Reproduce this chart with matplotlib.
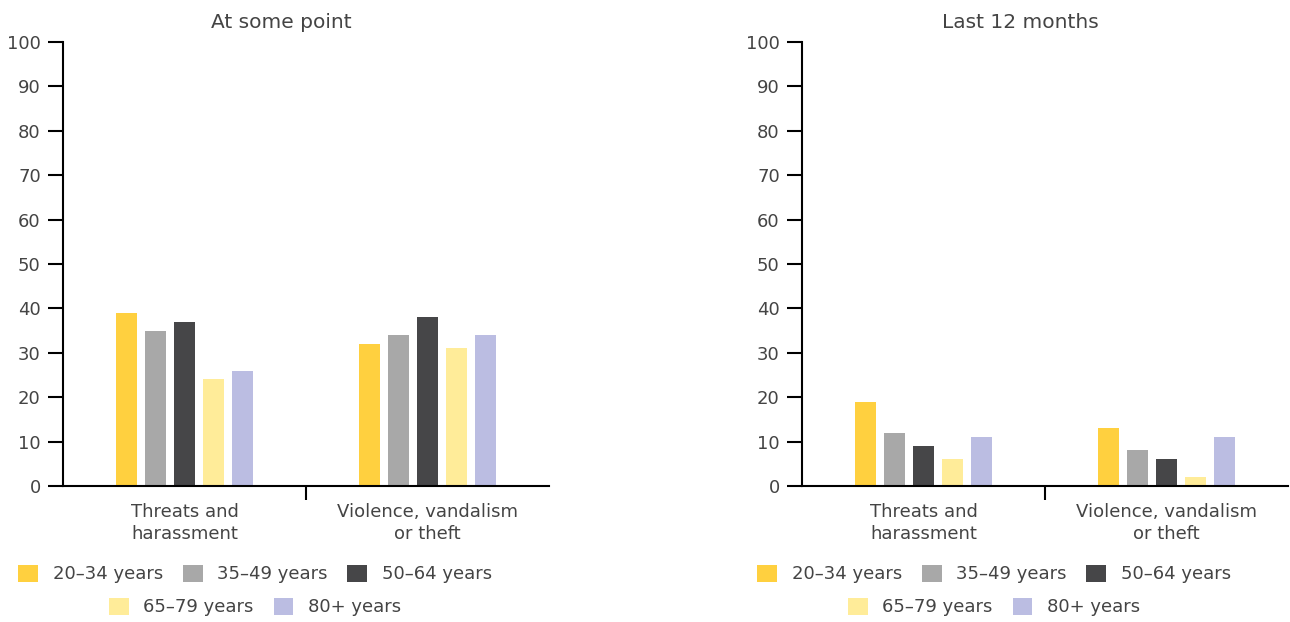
import matplotlib.pyplot as plt
import numpy as np
from matplotlib.patches import Patch

plt.rcParams['font.family'] = ['DejaVu Sans']

categories = ['Threats and\nharassment', 'Violence, vandalism\nor theft']
age_groups = ['20–34 years', '35–49 years', '50–64 years', '65–79 years', '80+ years']
colors = ['#FFD03F', '#A8A8A8', '#464648', '#FFEC99', '#BBBDE2']

# values per age group, [threats, violence]
at_some_point = [
    [39, 32],
    [35, 34],
    [37, 38],
    [24, 31],
    [26, 34],
]
last_12_months = [
    [19, 13],
    [12, 8],
    [9, 6],
    [6, 2],
    [11, 11],
]
titles = ['At some point', 'Last 12 months']

txt = '#444444'
fs = 13

fig = plt.figure(figsize=(12.9, 6.22), dpi=100)
ax_lefts = [63 / 1290, 802 / 1290]
panels = [at_some_point, last_12_months]

x = np.arange(len(categories))
step = 0.12
width = 0.087

for i, vals in enumerate(panels):
    ax = fig.add_axes([ax_lefts[i], 136 / 622, 486 / 1290, 444 / 622])
    for j, v in enumerate(vals):
        ax.bar(x + (j - 2) * step, v, width=width, color=colors[j], zorder=2)
    ax.set_xlim(-0.5, 1.5)
    ax.set_ylim(0, 100)
    ax.set_yticks(range(0, 101, 10))
    ax.set_xticks(x)
    ax.set_xticklabels(categories, color=txt, fontsize=fs, linespacing=1.3)
    ax.set_xticks([0.5], minor=True)
    ax.tick_params(axis='x', which='major', length=0, pad=12)
    ax.tick_params(axis='x', which='minor', length=10, width=1.5, color='black')
    ax.tick_params(axis='y', length=11, width=1.5, pad=5, labelsize=fs, labelcolor=txt)
    for s in ['top', 'right']:
        ax.spines[s].set_visible(False)
    ax.spines['left'].set_linewidth(1.5)
    ax.spines['bottom'].set_linewidth(1.5)

    cx = (ax_lefts[i] * 1290 + 192) / 1290
    fig.text((ax_lefts[i] * 1290 + 218) / 1290, 1 - 22 / 622, titles[i],
             ha='center', va='center', fontsize=fs + 1.5, color=txt)

    handles = [Patch(facecolor=c) for c in colors]
    leg1 = fig.legend(handles[:3], age_groups[:3], loc='center', ncol=3,
                      bbox_to_anchor=(cx, 1 - 574 / 622), frameon=False,
                      fontsize=fs, labelcolor=txt, handlelength=1.1, handleheight=1.1,
                      handletextpad=0.8, columnspacing=1.1)
    leg2 = fig.legend(handles[3:], age_groups[3:], loc='center', ncol=2,
                      bbox_to_anchor=(cx, 1 - 607 / 622), frameon=False,
                      fontsize=fs, labelcolor=txt, handlelength=1.1, handleheight=1.1,
                      handletextpad=0.8, columnspacing=1.1)

fig.savefig('out.png', dpi=100)
